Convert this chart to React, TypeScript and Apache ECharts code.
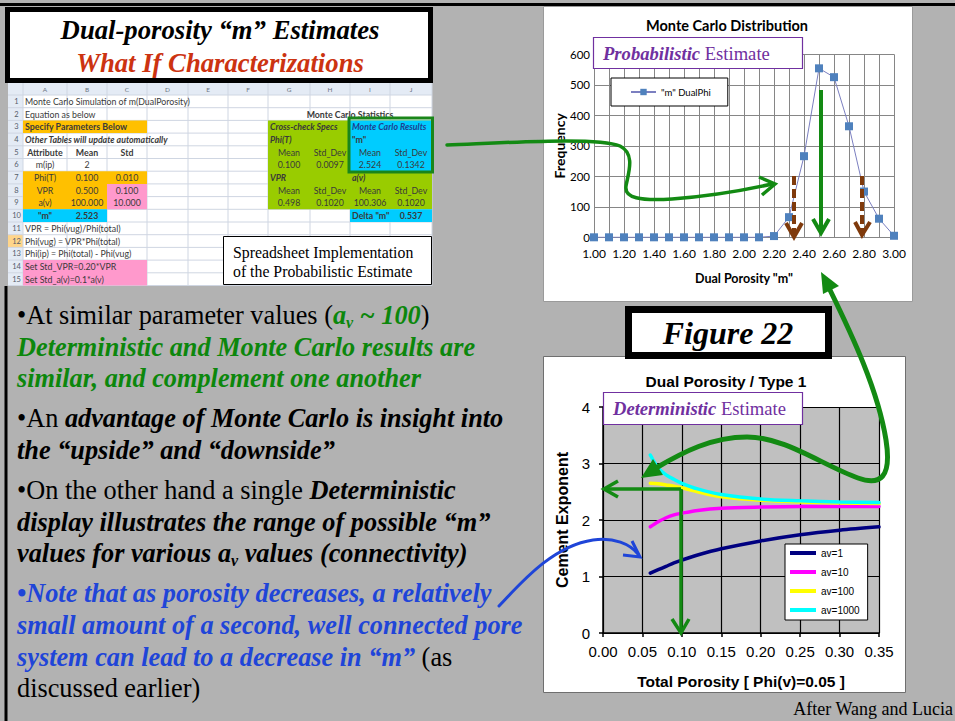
import React, { useEffect, useRef } from 'react';
import * as echarts from 'echarts';

// ---------------- data ----------------
const mcCategories = ['1.00','1.10','1.20','1.30','1.40','1.50','1.60','1.70','1.80','1.90','2.00','2.10','2.20','2.30','2.40','2.50','2.60','2.70','2.80','2.90','3.00'];
const mcFrequency = [0,0,0,0,0,0,0,0,0,0,0,0,4,66,266,554,525,364,150,61,5];
const mcSeriesName = '"m" DualPhi';

const detPorosity = [0.06,0.07,0.08,0.09,0.10,0.12,0.15,0.20,0.25,0.30,0.35];
const detAv1 = [1.06,1.12,1.18,1.24,1.29,1.38,1.49,1.63,1.74,1.82,1.88];
const detAv10 = [1.88,1.97,2.04,2.09,2.12,2.17,2.21,2.23,2.24,2.24,2.24];
const detAv100 = [2.65,2.64,2.62,2.60,2.57,2.50,2.41,2.35,2.32,2.30,2.29];
const detAv1000 = [3.15,2.92,2.80,2.72,2.65,2.55,2.45,2.37,2.34,2.32,2.31];
const detNames = ['av=1','av=10','av=100','av=1000'];
const detColors = ['#000080','#ff00ff','#ffff00','#00ffff'];

const sheetColumns = ['A','B','C','D','E','F','G','H','I','J'];
// [row, column index, text, align, style]
const sheetCells: [number, number, string, string, string][] = [
  [1,0,'Monte Carlo Simulation of m(DualPorosity)','l','n'],
  [2,0,'Equation as below','l','n'],
  [2,7,'Monte Carlo Statistics','e','b'],
  [3,0,'Specify Parameters Below','l','b'],
  [3,6,'Cross-check Specs','l','bi'],
  [3,8,'Monte Carlo Results','l','biu'],
  [4,0,'Other Tables will update automatically','l','bi'],
  [4,6,'Phi(T)','l','bi'],
  [4,8,'"m"','l','b'],
  [5,0,'Attribute','c','b'],[5,1,'Mean','c','b'],[5,2,'Std','c','b'],
  [5,6,'Mean','c','n'],[5,7,'Std_Dev','c','n'],[5,8,'Mean','c','n'],[5,9,'Std_Dev','c','n'],
  [6,0,'m(ip)','c','n'],[6,1,'2','c','n'],
  [6,6,'0.100','c','n'],[6,7,'0.0097','c','n'],[6,8,'2.524','c','n'],[6,9,'0.1342','c','n'],
  [7,0,'Phi(T)','c','n'],[7,1,'0.100','c','n'],[7,2,'0.010','c','n'],
  [7,6,'VPR','l','bi'],[7,8,'a(v)','l','bi'],
  [8,0,'VPR','c','n'],[8,1,'0.500','c','n'],[8,2,'0.100','c','n'],
  [8,6,'Mean','c','n'],[8,7,'Std_Dev','c','n'],[8,8,'Mean','c','n'],[8,9,'Std_Dev','c','n'],
  [9,0,'a(v)','c','n'],[9,1,'100.000','c','n'],[9,2,'10.000','c','n'],
  [9,6,'0.498','c','n'],[9,7,'0.1020','c','n'],[9,8,'100.306','c','n'],[9,9,'0.1020','c','n'],
  [10,0,'"m"','c','b'],[10,1,'2.523','c','b'],
  [10,8,'Delta "m"','l','b'],[10,9,'0.537','c','b'],
  [11,0,'VPR = Phi(vug)/Phi(total)','l','n'],
  [12,0,'Phi(vug) = VPR*Phi(total)','l','n'],
  [13,0,'Phi(ip) = Phi(total) - Phi(vug)','l','n'],
  [14,0,'Set Std_VPR=0.20*VPR','l','n'],
  [15,0,'Set Std_a(v)=0.1*a(v)','l','n'],
];
// [rowFrom, rowTo, colFrom, colTo, color]
const sheetFills: [number, number, number, number, string][] = [
  [3,3,0,2,'#ffc000'],[7,7,0,2,'#ffc000'],[8,9,0,1,'#ffc000'],[8,9,2,2,'#ff99cc'],
  [10,10,0,1,'#00ccff'],[14,15,0,2,'#ff99cc'],[3,9,6,9,'#99cc00'],[3,6,8,9,'#00ccff'],[10,10,8,9,'#00ccff'],
];

const bodyLines: [number, string][] = [
  [315, '{n|•At similar parameter values (}{g|a}{gs|v}{g| ~ 100}{n|)}'],
  [347, '{g|Deterministic and Monte Carlo results are}'],
  [378, '{g|similar, and complement one another}'],
  [418, '{n|•An }{b|advantage of Monte Carlo is insight into}'],
  [450, '{b|the “upside” and “downside”}'],
  [490, '{n|•On the other hand a single }{b|Deterministic}'],
  [522, '{b|display illustrates the range of possible “m”}'],
  [553, '{b|values for various a}{bs|v}{b| values (connectivity)}'],
  [593, '{u|•Note that as porosity decreases, a relatively}'],
  [625, '{u|small amount of a second, well connected pore}'],
  [657, '{u|system can lead to a decrease in “m”}{n| (as}'],
  [688, '{n|discussed earlier)}'],
];

// ---------------- styling helpers ----------------
const SERIF = '"Liberation Serif", "Times New Roman", serif';
const SANS = '"Liberation Sans", Arial, sans-serif';
const CAL = 'Lato, "Liberation Sans", sans-serif';
const GREEN = '#138a13';
const BROWN = '#7f3a0c';
const PURPLE = '#7030a0';
const BLUE = '#1f45d8';
const BODY = 26.3;

function txt(x: number, y: number, text: string, o: any = {}) {
  const align = o.align || 'left';
  return {
    type: 'text', x, y, z: o.z ?? 20, silent: true,
    style: {
      text, fill: o.color || '#000',
      fontSize: o.size || 12, fontFamily: o.family || SANS,
      fontWeight: o.weight || 'normal', fontStyle: o.style || 'normal',
      textAlign: align, align, textVerticalAlign: 'middle', verticalAlign: 'middle',
      rich: o.rich,
    },
  };
}
function rect(x: number, y: number, w: number, h: number, fill: string, stroke?: string, lw = 1, z = 5) {
  return { type: 'rect', z, silent: true, shape: { x, y, width: w, height: h }, style: { fill, stroke: stroke || null, lineWidth: lw } };
}
function pline(points: number[][], stroke: string, lw: number, z = 40, dash?: number[]) {
  return { type: 'polyline', z, silent: true, shape: { points }, style: { stroke, lineWidth: lw, fill: null, lineDash: dash || null, lineCap: 'butt', lineJoin: 'miter' } };
}
function pathEl(name: string, stroke: string, lw: number, z = 40) {
  return { type: name, x: 0, y: 0, scaleX: 1, scaleY: 1, z, silent: true, style: { stroke, lineWidth: lw, fill: 'none', lineCap: 'round' } };
}

let shapesRegistered = false;
function registerShapes() {
  if (shapesRegistered) return;
  shapesRegistered = true;
  echarts.graphic.registerShape('greenS', echarts.graphic.extendPath(
    'M447,145 C520,142 598,137 620,146 C636,154 628,174 626,186 C624,198 640,201 672,199 C712,196 745,190 772,184', {}));
  echarts.graphic.registerShape('greenBig', echarts.graphic.extendPath(
    'M830,290 C852,335 878,390 886,440 C892,478 880,486 858,478 C822,465 785,437 747,437 C712,437 683,452 656,468', {}));
  echarts.graphic.registerShape('blueCurve', echarts.graphic.extendPath(
    'M499,606 C520,584 552,546 593,540 C614,537 630,544 638,554', {}));
}

function sheetElements() {
  const els: any[] = [];
  const colEdges = [23, 67, 107, 147, 188, 228, 268, 310, 350, 390, 432];
  const top0 = 95, RH = 12.7, left0 = 8, right0 = 432, bottom0 = 95 + 15 * 12.7;
  const rowTop = (r: number) => top0 + (r - 1) * RH;
  els.push(rect(left0, 83, right0 - left0, bottom0 - 83, '#ffffff', null as any, 0, 3));
  els.push(rect(left0, 83, right0 - left0, 12, '#e4ebf5', null as any, 0, 4));
  els.push(rect(left0, top0, colEdges[0] - left0, bottom0 - top0, '#e4ebf5', null as any, 0, 4));
  els.push(rect(left0, rowTop(12), colEdges[0] - left0, RH, '#ffd58a', null as any, 0, 4));
  for (let i = 0; i < colEdges.length; i++) {
    els.push(pline([[colEdges[i], 83], [colEdges[i], bottom0]], '#cfd6e2', 1, 5));
  }
  for (let r = 0; r <= 15; r++) {
    const y = top0 + r * RH;
    els.push(pline([[left0, y], [right0, y]], '#cfd6e2', 1, 5));
  }
  sheetFills.forEach(([r1, r2, c1, c2, color]) => {
    els.push(rect(colEdges[c1], rowTop(r1), colEdges[c2 + 1] - colEdges[c1], (r2 - r1 + 1) * RH, color, null as any, 0, 6));
  });
  sheetColumns.forEach((c, i) => {
    els.push(txt((colEdges[i] + colEdges[i + 1]) / 2, 89.5, c, { size: 6.5, color: '#6a7280', align: 'center', family: CAL, z: 8 }));
  });
  for (let r = 1; r <= 15; r++) {
    els.push(txt((left0 + colEdges[0]) / 2 + 1, rowTop(r) + RH / 2, String(r), { size: 7.5, color: '#555d6b', align: 'center', family: CAL, z: 8 }));
  }
  sheetCells.forEach(([r, c, text, al, st]) => {
    const y = rowTop(r) + RH / 2;
    let x = colEdges[c] + 2, align = 'left';
    if (al === 'c') { x = (colEdges[c] + colEdges[c + 1]) / 2; align = 'center'; }
    if (al === 'e') { x = colEdges[c + 1]; align = 'center'; }
    els.push(txt(x, y, text, {
      size: 8.8, family: CAL, align, z: 8,
      weight: st.indexOf('b') >= 0 ? 'bold' : 'normal',
      style: st.indexOf('i') >= 0 ? 'italic' : 'normal',
      color: st === 'biu' ? '#1f3f8f' : '#3a3a3a',
    }));
  });
  els.push(rect(349, 118, 83.5, 54, 'none', '#1a861a', 3, 9));
  return els;
}

function buildOption(): any {
  const richBase = { fontFamily: SERIF, fontSize: BODY, lineHeight: 31 };
  const subBase = { fontFamily: SERIF, fontSize: 16, lineHeight: 16, verticalAlign: 'bottom', fontWeight: 'bold', fontStyle: 'italic' };
  const rich = {
    n: { ...richBase, fill: '#000', color: '#000' },
    g: { ...richBase, fill: '#0c870c', color: '#0c870c', fontWeight: 'bold', fontStyle: 'italic' },
    gs: { ...subBase, fill: '#0c870c', color: '#0c870c' },
    b: { ...richBase, fill: '#000', color: '#000', fontWeight: 'bold', fontStyle: 'italic' },
    bs: { ...subBase, fill: '#000', color: '#000' },
    u: { ...richBase, fill: BLUE, color: BLUE, fontWeight: 'bold', fontStyle: 'italic' },
  };
  const estRich = {
    b: { fontFamily: SERIF, fontSize: 18.6, fontWeight: 'bold', fontStyle: 'italic', fill: PURPLE, color: PURPLE },
    n: { fontFamily: SERIF, fontSize: 18.6, fill: PURPLE, color: PURPLE },
  };

  const graphics: any[] = [
    pline([[0, 4.5], [955, 4.5]], '#000', 3, 2),
    pline([[6, 286], [6, 721]], '#000', 3, 2),
    rect(543.5, 6.5, 369, 295, '#ffffff', '#9a9a9a', 1, -10),
    rect(543.5, 356.5, 362, 336, '#ffffff', '#6f6f6f', 1, -10),
    rect(7.5, 9.5, 423, 71, '#ffffff', '#000', 5, 5),
    txt(220, 30, 'Dual-porosity “m” Estimates', { size: 26.7, family: SERIF, weight: 'bold', style: 'italic', align: 'center' }),
    txt(220, 63, 'What If Characterizations', { size: 26.7, family: SERIF, weight: 'bold', style: 'italic', align: 'center', color: '#cc3311' }),
    ...sheetElements(),
    rect(223.5, 236.5, 208, 48, '#ffffff', '#000', 1, 12),
    txt(233, 252, 'Spreadsheet Implementation', { size: 15.8, family: SERIF, z: 13 }),
    txt(233, 271, 'of the Probabilistic Estimate', { size: 15.8, family: SERIF, z: 13 }),
    ...bodyLines.map(([y, t]) => txt(17, y, t, { size: BODY, family: SERIF, rich, z: 20 })),
    // MC chart annotations
    txt(727, 25, 'Monte Carlo Distribution', { size: 14.5, family: CAL, weight: 'bold', align: 'center' }),
    rect(593.5, 37.5, 209, 31, '#ffffff', PURPLE, 1.2, 30),
    txt(603, 53, '{b|Probabilistic} {n|Estimate}', { size: 18.6, family: SERIF, z: 31, color: PURPLE, rich: estRich }),
    pline([[821, 90], [821, 231]], GREEN, 4, 40),
    pline([[813, 219], [821, 233], [829, 219]], GREEN, 4, 40),
    pline([[794, 176], [794, 234]], BROWN, 4, 40, [9, 4]),
    pline([[786, 223], [794, 237], [802, 223]], BROWN, 4, 40),
    pline([[862, 176], [862, 232]], BROWN, 4, 40, [9, 4]),
    pline([[855, 222], [862, 235], [870, 222]], BROWN, 4, 40),
    pathEl('greenS', GREEN, 3.5, 40),
    pline([[759, 177], [775, 184], [762, 195]], GREEN, 3.5, 40),
    // Figure 22
    rect(628.5, 309.5, 200, 46, '#ffffff', '#000', 7, 25),
    txt(728, 333, 'Figure 22', { size: 32, family: SERIF, weight: 'bold', style: 'italic', align: 'center', z: 26 }),
    // Deterministic chart annotations
    txt(726, 381, 'Dual Porosity / Type 1', { size: 15.5, family: SANS, weight: 'bold', align: 'center' }),
    rect(603.5, 392.5, 199, 32, '#ffffff', PURPLE, 1.2, 30),
    txt(613, 408, '{b|Deterministic} {n|Estimate}', { size: 18.6, family: SERIF, z: 31, color: PURPLE, rich: estRich }),
    pline([[681, 489], [606, 489]], GREEN, 3.5, 40),
    pline([[618, 481], [604, 489], [618, 497]], GREEN, 3.5, 40),
    pline([[681, 489], [681, 631]], GREEN, 3.5, 40),
    pline([[672, 619], [681, 633], [689, 619]], GREEN, 3.5, 40),
    pathEl('greenBig', GREEN, 5, 45),
    { type: 'polygon', z: 45, silent: true, shape: { points: [[821, 272], [823, 294], [839, 286]] }, style: { fill: GREEN } },
    { type: 'polygon', z: 45, silent: true, shape: { points: [[641, 478], [653, 459], [663, 475]] }, style: { fill: GREEN } },
    pathEl('blueCurve', BLUE, 3, 45),
    pline([[632, 541], [640, 557], [623, 555]], BLUE, 3, 45),
    txt(953, 709, 'After Wang and Lucia', { size: 18, family: SERIF, align: 'right' }),
  ];

  const detSeriesData = [detAv1, detAv10, detAv100, detAv1000];

  return {
    animation: false,
    backgroundColor: '#b2b2b2',
    grid: [
      { left: 594, top: 54.3, width: 300, height: 183 },
      { left: 603, top: 407, width: 276, height: 226, show: true, backgroundColor: '#c0c0c0', borderWidth: 0 },
    ],
    legend: [
      {
        data: [mcSeriesName], left: 611, top: 78, orient: 'horizontal',
        backgroundColor: '#fff', borderColor: '#000', borderWidth: 1, borderRadius: 0,
        padding: [9, 17, 9, 19], itemWidth: 25, itemHeight: 8,
        textStyle: { fontFamily: CAL, fontSize: 9.5, color: '#000' },
      },
      {
        data: detNames, left: 785, top: 544, orient: 'vertical',
        backgroundColor: '#fff', borderColor: '#000', borderWidth: 1, borderRadius: 0,
        padding: [4, 8, 5, 5], itemGap: 9, itemWidth: 26, itemHeight: 4, icon: 'rect',
        textStyle: { fontFamily: SANS, fontSize: 10, color: '#000' },
      },
    ],
    xAxis: [
      {
        gridIndex: 0, type: 'category', data: mcCategories, boundaryGap: false,
        axisLine: { lineStyle: { color: '#868686', width: 1 } },
        axisTick: { show: false },
        axisLabel: { interval: 1, fontSize: 12, fontFamily: CAL, color: '#000', margin: 10 },
        splitLine: { show: true, interval: 0, lineStyle: { color: '#868686', width: 1 } },
        name: 'Dual Porosity "m"', nameLocation: 'middle', nameGap: 35,
        nameTextStyle: { fontFamily: CAL, fontSize: 12.5, fontWeight: 'bold', color: '#000' },
      },
      {
        gridIndex: 1, type: 'value', min: 0, max: 0.35, interval: 0.05,
        axisLine: { show: true, lineStyle: { color: '#000', width: 1.5 } },
        axisTick: { show: true, length: 4, lineStyle: { color: '#000', width: 1.5 } },
        axisLabel: { fontSize: 15, fontFamily: SANS, color: '#000', margin: 11, formatter: (v: number) => v.toFixed(2) },
        splitLine: { show: true, lineStyle: { color: '#000', width: 1.2 } },
        name: 'Total Porosity [ Phi(v)=0.05 ]', nameLocation: 'middle', nameGap: 40,
        nameTextStyle: { fontFamily: SANS, fontSize: 15.5, fontWeight: 'bold', color: '#000' },
      },
    ],
    yAxis: [
      {
        gridIndex: 0, type: 'value', min: 0, max: 600, interval: 100,
        axisLine: { show: false }, axisTick: { show: false },
        axisLabel: { fontSize: 11.5, fontFamily: CAL, color: '#000', margin: 4 },
        splitLine: { show: true, lineStyle: { color: '#868686', width: 1 } },
        name: 'Frequency', nameLocation: 'middle', nameGap: 27,
        nameTextStyle: { fontFamily: CAL, fontSize: 14, fontWeight: 'bold', color: '#000' },
      },
      {
        gridIndex: 1, type: 'value', min: 0, max: 4, interval: 1,
        axisLine: { show: true, lineStyle: { color: '#000', width: 1.5 } },
        axisTick: { show: true, length: 4, lineStyle: { color: '#000', width: 1.5 } },
        axisLabel: { fontSize: 15, fontFamily: SANS, color: '#000', margin: 13 },
        splitLine: { show: true, lineStyle: { color: '#000', width: 1.2 } },
        name: 'Cement Exponent', nameLocation: 'middle', nameGap: 33,
        nameTextStyle: { fontFamily: SANS, fontSize: 16, fontWeight: 'bold', color: '#000' },
      },
    ],
    series: [
      {
        name: mcSeriesName, type: 'line', xAxisIndex: 0, yAxisIndex: 0, data: mcFrequency,
        symbol: 'rect', symbolSize: 8, itemStyle: { color: '#4f81bd' },
        lineStyle: { color: '#7b7fc0', width: 1 }, z: 3,
      },
      ...detNames.map((name, i) => ({
        name, type: 'line', xAxisIndex: 1, yAxisIndex: 1,
        data: detPorosity.map((p, j) => [p, detSeriesData[i][j]]),
        smooth: 0.3, showSymbol: false, symbol: 'none',
        itemStyle: { color: detColors[i] },
        lineStyle: { color: detColors[i], width: 3.5, cap: 'round' }, z: 3,
      })),
    ],
    graphic: { elements: graphics },
  };
}

export default function App() {
  const ref = useRef<HTMLDivElement>(null);
  useEffect(() => {
    if (!ref.current) return;
    registerShapes();
    const chart = echarts.init(ref.current, undefined, { renderer: 'svg', width: 955, height: 721 });
    chart.setOption(buildOption());
    return () => chart.dispose();
  }, []);
  return <div ref={ref} style={{ position: 'fixed', left: 0, top: 0, width: 955, height: 721 }} />;
}
